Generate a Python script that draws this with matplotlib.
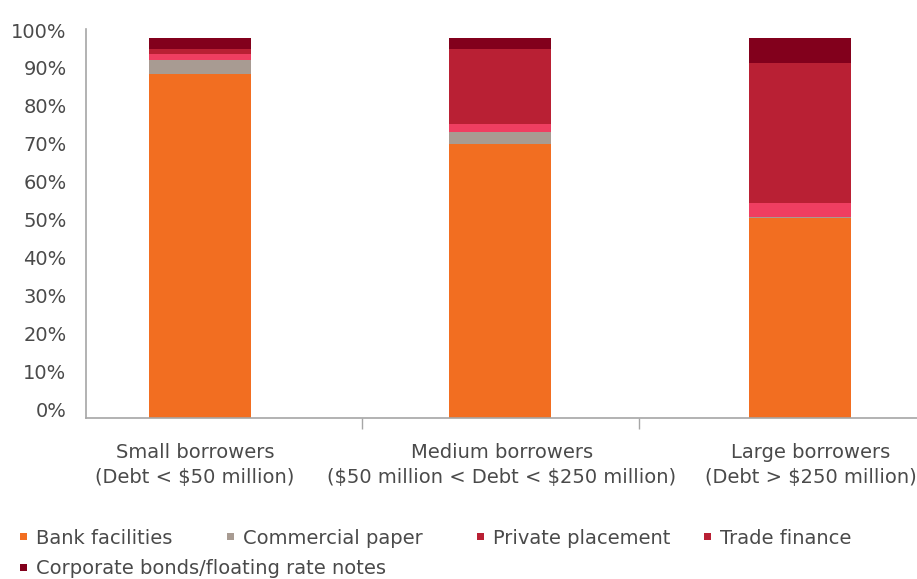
import matplotlib
matplotlib.use("Agg")
import matplotlib.pyplot as plt
import matplotlib.transforms as mtransforms
from matplotlib.patches import Rectangle
import numpy as np

plt.rcParams['font.family'] = ['DejaVu Sans']
plt.rcParams['text.parse_math'] = False

# Share of debt financing by borrower size (%)
categories = [
    "Small borrowers\n(Debt < $50 million)",
    "Medium borrowers\n($50 million < Debt < $250 million)",
    "Large borrowers\n(Debt > $250 million)",
]
bank_facilities = [90.5, 72.0, 52.6]
commercial_paper = [3.7, 3.2, 0.3]
trade_finance = [1.6, 2.1, 3.7]
private_placement = [1.3, 19.8, 36.8]
corporate_bonds = [2.9, 2.9, 6.6]

yticks = [0, 10, 20, 30, 40, 50, 60, 70, 80, 90, 100]
ytick_labels = [f"{v}%" for v in yticks]

ORANGE = "#F26E21"
GREY = "#A89B92"
PINK = "#EF3E61"
CRIMSON = "#B92034"
MAROON = "#82001C"
TEXT = "#4A4A4A"
SPINE = "#A6A6A6"
FS = 14

W, H = 917, 579
fig = plt.figure(figsize=(W / 100, H / 100), dpi=100)

ax_left, ax_right, ax_top, ax_bottom = 86, 917, 29, 417.5
ax = fig.add_axes([ax_left / W, 1 - ax_bottom / H,
                   (ax_right - ax_left) / W, (ax_bottom - ax_top) / H])

x = np.arange(len(categories))
width = 0.343
stack = [
    (bank_facilities, ORANGE),
    (commercial_paper, GREY),
    (trade_finance, PINK),
    (private_placement, CRIMSON),
    (corporate_bonds, MAROON),
]
bottom = np.zeros(len(categories))
for values, color in stack:
    ax.bar(x, values, width, bottom=bottom, color=color, linewidth=0)
    bottom += np.asarray(values)

# 300 px per category slot, axis spans 86..917 px
ax.set_xlim(-114 / 300, 2 + 117 / 300)
ax.set_ylim(0, 100 * (ax_bottom - ax_top) / (ax_bottom - 38))

ax.set_yticks(yticks)
ax.set_yticklabels(ytick_labels)
ax.tick_params(axis='y', length=0, pad=14, labelsize=FS, labelcolor=TEXT)
shift = mtransforms.ScaledTranslation(0, 8 / 100, fig.dpi_scale_trans)
for lbl in ax.get_yticklabels():
    lbl.set_transform(lbl.get_transform() + shift)

ax.set_xticks(x)
ax.set_xticklabels(categories, linespacing=1.42)
ax.tick_params(axis='x', which='major', length=0, pad=18, labelsize=FS,
               labelcolor=TEXT)
for lbl, dx in zip(ax.get_xticklabels(), (-5, 2, 11)):
    lbl.set_transform(lbl.get_transform() +
                      mtransforms.ScaledTranslation(dx / 100, 0,
                                                    fig.dpi_scale_trans))
ax.set_xticks([0.54, 1.4633], minor=True)
ax.tick_params(axis='x', which='minor', length=8, width=1, color=SPINE,
               direction='out')

for side in ('top', 'right'):
    ax.spines[side].set_visible(False)
for side in ('left', 'bottom'):
    ax.spines[side].set_color(SPINE)
    ax.spines[side].set_linewidth(1.2)

# Legend laid out in two rows
legend_items = [
    ("Bank facilities", ORANGE, 20, 543.5),
    ("Commercial paper", GREY, 227, 543.5),
    ("Private placement", CRIMSON, 477, 543.5),
    ("Trade finance", CRIMSON, 704, 543.5),
    ("Corporate bonds/floating rate notes", MAROON, 20, 574.5),
]
sq = 7
for label, color, mx, base in legend_items:
    cy = base - 7
    fig.add_artist(Rectangle((mx / W, 1 - (cy + sq / 2) / H), sq / W, sq / H,
                             transform=fig.transFigure, color=color, lw=0))
    fig.text((mx + 16) / W, 1 - base / H, label, fontsize=FS, color=TEXT,
             ha='left', va='baseline')

fig.savefig("out.png", dpi=100)
